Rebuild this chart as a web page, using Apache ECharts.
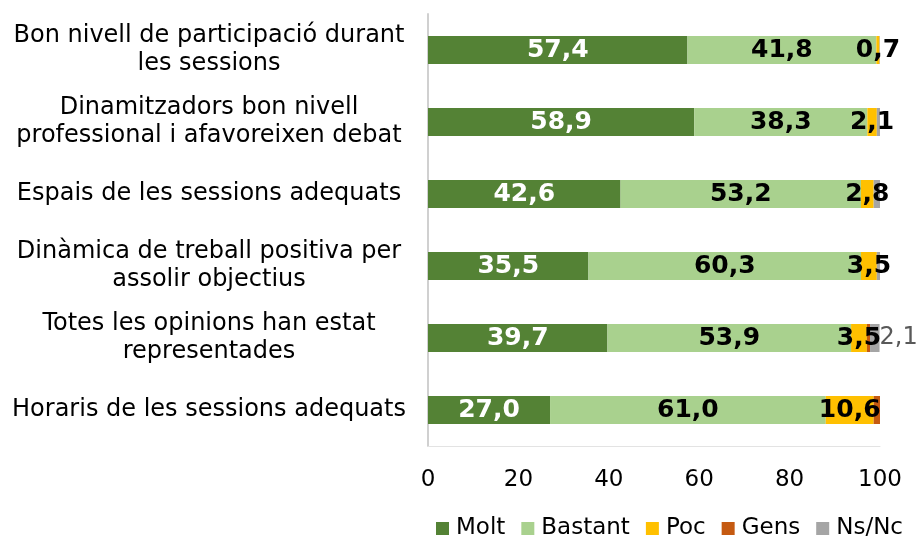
<!DOCTYPE html>
<html>
<head>
<meta charset="utf-8">
<script src="https://cdn.jsdelivr.net/npm/echarts@6/dist/echarts.min.js"></script>
<style>
  html, body { margin: 0; padding: 0; background: #fff; }
  #chart { width: 917px; height: 536px; }
</style>
</head>
<body>
<div id="chart"></div>
<script>
var categories = [
  'Bon nivell de participació durant\nles sessions',
  'Dinamitzadors bon nivell\nprofessional i afavoreixen debat',
  'Espais de les sessions adequats',
  'Dinàmica de treball positiva per\nassolir objectius',
  'Totes les opinions han estat\nrepresentades',
  'Horaris de les sessions adequats'
]
var molt = [57.4, 58.9, 42.6, 35.5, 39.7, 27.0]
var bastant = [41.8, 38.3, 53.2, 60.3, 53.9, 61.0]
var poc = [0.7, 2.1, 2.8, 3.5, 3.5, 10.6]
var gens = [0, 0, 0, 0, 0.7, 1.4]
var nsnc = [0.1, 0.7, 1.4, 0.7, 2.1, 0]
// only this Ns/Nc label is shown in the original
var nsncLabelShown = [false, false, false, false, true, false]
var xTicks = [0, 20, 40, 60, 80, 100]

var FONT = 'DejaVu Sans'
var fmt = function (p) { return p.value.toFixed(1).replace('.', ',') }

var chart = echarts.init(document.getElementById('chart'))

function seg (name, data, color, labelColor, show) {
  return {
    name: name,
    type: 'bar',
    stack: 'total',
    barWidth: 28,
    itemStyle: { color: color },
    label: {
      show: show,
      position: 'inside',
      color: labelColor,
      fontFamily: FONT,
      fontWeight: 'bold',
      fontSize: 25,
      formatter: fmt
    },
    data: data
  }
}

var nsncData = nsnc.map(function (v, i) {
  return {
    value: v,
    label: {
      show: nsncLabelShown[i],
      position: 'right',
      distance: 0,
      color: '#595959',
      fontFamily: FONT,
      fontWeight: 'normal',
      fontSize: 24,
      formatter: fmt
    }
  }
})

chart.setOption({
  animation: false,
  textStyle: { fontFamily: FONT },
  grid: { left: 428, right: 37, top: 14, bottom: 90 },
  legend: {
    left: 431,
    top: 512,
    itemWidth: 13,
    itemHeight: 13,
    itemGap: 16,
    icon: 'rect',
    textStyle: { fontFamily: FONT, fontSize: 23, color: '#000', padding: [0, 0, 0, 2] },
    data: ['Molt', 'Bastant', 'Poc', 'Gens', 'Ns/Nc']
  },
  xAxis: {
    type: 'value',
    min: xTicks[0],
    max: xTicks[xTicks.length - 1],
    interval: 20,
    splitLine: { show: false },
    axisTick: { show: false },
    axisLine: { show: true, lineStyle: { color: '#e3e3e3', width: 1 } },
    axisLabel: { color: '#000', fontFamily: FONT, fontSize: 23, margin: 23 }
  },
  yAxis: {
    type: 'category',
    inverse: true,
    data: categories,
    axisTick: { show: false },
    axisLine: { show: true, lineStyle: { color: '#d0d0d0', width: 2 } },
    axisLabel: {
      color: '#000',
      fontFamily: FONT,
      fontSize: 24,
      lineHeight: 28,
      align: 'center',
      margin: 219
    }
  },
  series: [
    seg('Molt', molt, '#548235', '#fff', true),
    seg('Bastant', bastant, '#A9D18E', '#000', true),
    seg('Poc', poc, '#FFC000', '#000', true),
    seg('Gens', gens, '#C55A11', '#000', false),
    seg('Ns/Nc', nsncData, '#A5A5A5', '#595959', false)
  ]
})
</script>
</body>
</html>
